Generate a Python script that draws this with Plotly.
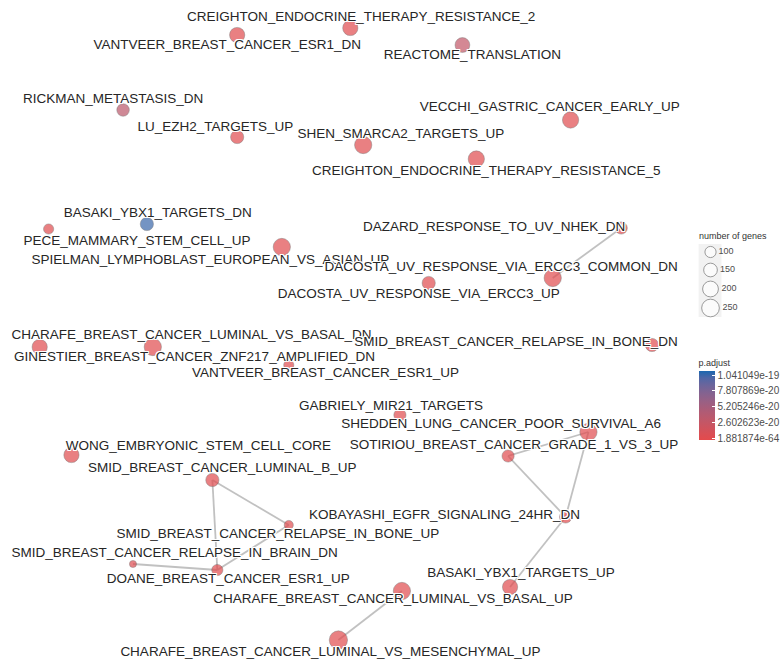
import plotly.graph_objects as go

# ---------------- data ----------------
terms = [
    "CREIGHTON_ENDOCRINE_THERAPY_RESISTANCE_2",
    "VANTVEER_BREAST_CANCER_ESR1_DN",
    "REACTOME_TRANSLATION",
    "RICKMAN_METASTASIS_DN",
    "LU_EZH2_TARGETS_UP",
    "SHEN_SMARCA2_TARGETS_UP",
    "VECCHI_GASTRIC_CANCER_EARLY_UP",
    "CREIGHTON_ENDOCRINE_THERAPY_RESISTANCE_5",
    "BASAKI_YBX1_TARGETS_DN",
    "PECE_MAMMARY_STEM_CELL_UP",
    "SPIELMAN_LYMPHOBLAST_EUROPEAN_VS_ASIAN_UP",
    "DAZARD_RESPONSE_TO_UV_NHEK_DN",
    "DACOSTA_UV_RESPONSE_VIA_ERCC3_COMMON_DN",
    "DACOSTA_UV_RESPONSE_VIA_ERCC3_UP",
    "CHARAFE_BREAST_CANCER_LUMINAL_VS_BASAL_DN",
    "GINESTIER_BREAST_CANCER_ZNF217_AMPLIFIED_DN",
    "VANTVEER_BREAST_CANCER_ESR1_UP",
    "SMID_BREAST_CANCER_RELAPSE_IN_BONE_DN",
    "GABRIELY_MIR21_TARGETS",
    "SHEDDEN_LUNG_CANCER_POOR_SURVIVAL_A6",
    "SOTIRIOU_BREAST_CANCER_GRADE_1_VS_3_UP",
    "WONG_EMBRYONIC_STEM_CELL_CORE",
    "SMID_BREAST_CANCER_LUMINAL_B_UP",
    "KOBAYASHI_EGFR_SIGNALING_24HR_DN",
    "SMID_BREAST_CANCER_RELAPSE_IN_BONE_UP",
    "SMID_BREAST_CANCER_RELAPSE_IN_BRAIN_DN",
    "DOANE_BREAST_CANCER_ESR1_UP",
    "BASAKI_YBX1_TARGETS_UP",
    "CHARAFE_BREAST_CANCER_LUMINAL_VS_BASAL_UP",
    "CHARAFE_BREAST_CANCER_LUMINAL_VS_MESENCHYMAL_UP",
]

# network layout coordinates of the nodes
node_x = [353, 239, 466, 124, 239, 366, 575, 480, 148, 49,
          284, 626, 557, 432, 40, 154, 291, 657, 403, 593,
          512, 72, 214, 570, 291, 134, 219, 514, 405, 341]
node_y = [28, 35, 45, 110, 137, 145, 120, 159, 224, 229,
          247, 228, 278, 283, 347, 347, 365, 345, 415, 432,
          456, 455, 480, 517, 525, 564, 570, 587, 591, 640]

# repelled label positions
label_x = [364, 229, 476, 114, 217, 404, 554, 490, 159, 138,
           212, 498, 505, 422, 193, 196, 328, 520, 394, 505,
           518, 200, 224, 448, 280, 176, 230, 525, 396, 333]
label_y = [18, 46, 56, 100, 128, 135, 108, 172, 214, 242,
           261, 228, 268, 295, 336, 358, 374, 343, 407, 425,
           446, 447, 469, 516, 535, 554, 580, 574, 600, 653]

gene_count = [186, 186, 175, 125, 140, 239, 212, 212, 140, 83,
              239, 119, 239, 140, 186, 239, 83, 140, 119, 239,
              119, 186, 140, 119, 67, 40, 100, 186, 239, 268]

p_adjust = [2.1e-24, 3.5e-26, 2.8e-20, 3.3e-20, 4.2e-25, 6.0e-32, 1.5e-27, 8.3e-30, 1.041049e-19, 2.2e-22,
            5.4e-31, 1.9e-23, 3.1e-36, 7.7e-25, 4.4e-33, 1.2e-38, 9.5e-23, 2.6e-24, 1.1e-22, 6.8e-35,
            3.9e-24, 2.5e-29, 5.0e-27, 1.6e-23, 8.1e-22, 2.9e-21, 4.6e-25, 7.3e-28, 9.9e-45, 1.881874e-64]

edges = [(11, 12), (19, 20), (20, 23), (19, 23), (23, 27),
         (22, 24), (22, 26), (24, 26), (25, 26), (28, 29)]

size_breaks = [100, 150, 200, 250]
cbar_ticks = [1.881874e-64, 2.602623e-20, 5.205246e-20, 7.807869e-20, 1.041049e-19]
cbar_ticktext = ["1.881874e-64", "2.602623e-20", "5.205246e-20", "7.807869e-20", "1.041049e-19"]

# ---------------- style helpers ----------------
LOW, HIGH = (228, 74, 76), (28, 104, 176)


def _to_lin(c):
    c = c / 255.0
    return c / 12.92 if c <= 0.04045 else ((c + 0.055) / 1.055) ** 2.4


def _from_lin(c):
    c = 12.92 * c if c <= 0.0031308 else 1.055 * c ** (1 / 2.4) - 0.055
    return max(0, min(255, round(c * 255)))


def rgb2lab(rgb):
    r, g, b = [_to_lin(v) for v in rgb]
    X = (0.4124 * r + 0.3576 * g + 0.1805 * b) / 0.95047
    Y = (0.2126 * r + 0.7152 * g + 0.0722 * b)
    Z = (0.0193 * r + 0.1192 * g + 0.9505 * b) / 1.08883
    f = lambda t: t ** (1 / 3) if t > 0.008856 else 7.787 * t + 16 / 116
    fx, fy, fz = f(X), f(Y), f(Z)
    return (116 * fy - 16, 500 * (fx - fy), 200 * (fy - fz))


def lab2rgb(lab):
    L, a, b = lab
    fy = (L + 16) / 116
    fx = fy + a / 500
    fz = fy - b / 200
    g = lambda t: t ** 3 if t ** 3 > 0.008856 else (t - 16 / 116) / 7.787
    X, Y, Z = g(fx) * 0.95047, g(fy), g(fz) * 1.08883
    r = 3.2406 * X - 1.5372 * Y - 0.4986 * Z
    gg = -0.9689 * X + 1.8758 * Y + 0.0415 * Z
    bb = 0.0557 * X - 0.2040 * Y + 1.0570 * Z
    return tuple(_from_lin(v) for v in (r, gg, bb))


lab_lo, lab_hi = rgb2lab(LOW), rgb2lab(HIGH)
colorscale = []
for i in range(11):
    t = i / 10
    lab = tuple(lo + (hi - lo) * t for lo, hi in zip(lab_lo, lab_hi))
    r, g, b = lab2rgb(lab)
    colorscale.append([t, f"rgb({r},{g},{b})"])

SIZEREF = 1.6
halo = ", ".join(f"{dx}px {dy}px 0 #fff" for dx in (-1, 0, 1) for dy in (-1, 0, 1) if (dx, dy) != (0, 0))
FONT = "Liberation Sans, Arial, sans-serif"

pmin, pmax = min(p_adjust), max(p_adjust)
span = pmax - pmin

# ---------------- figure ----------------
fig = go.Figure()

ex, ey = [], []
for a, b in edges:
    ex += [node_x[a], node_x[b], None]
    ey += [node_y[a], node_y[b], None]
fig.add_trace(go.Scatter(x=ex, y=ey, mode="lines",
                         line=dict(color="rgba(190,190,190,0.95)", width=1.8),
                         hoverinfo="skip", showlegend=False))

fig.add_trace(go.Scatter(
    x=node_x, y=node_y, mode="markers", text=terms, hoverinfo="text", showlegend=False,
    marker=dict(size=gene_count, sizemode="area", sizeref=SIZEREF,
                color=p_adjust, colorscale=colorscale,
                cmin=pmin - span * 0.025, cmax=pmax + span * 0.065,
                line=dict(color="rgba(70,70,70,0.75)", width=0.6),
                showscale=True,
                colorbar=dict(
                    title=dict(text="p.adjust", side="top", font=dict(family=FONT, size=9, color="#333")),
                    x=704 / 783, xanchor="left", xref="paper",
                    y=1 - 398 / 662, yanchor="middle",
                    len=84, lenmode="pixels", thickness=16,
                    tickvals=cbar_ticks, ticktext=cbar_ticktext,
                    ticks="inside", ticklen=3, tickcolor="white",
                    tickfont=dict(family=FONT, size=10, color="#4d4d4d"),
                    outlinewidth=0, xpad=0, ypad=0,
                ))))

fig.add_trace(go.Scatter(
    x=label_x, y=label_y, mode="text", text=terms, textposition="middle center",
    textfont=dict(family=FONT, size=13.5, color="#262626", shadow=halo),
    hoverinfo="skip", showlegend=False))

# size legend
leg_x = [716] * len(size_breaks)
leg_y = [252, 270, 289, 308]
fig.add_shape(type="rect", x0=704, x1=727, y0=244, y1=317, xref="x", yref="y",
              fillcolor="#f2f2f2", line=dict(width=0), layer="below")
fig.add_trace(go.Scatter(
    x=leg_x, y=leg_y, mode="markers+text", text=[str(s) for s in size_breaks],
    textposition="middle right",
    textfont=dict(family=FONT, size=9, color="#4d4d4d"),
    marker=dict(size=size_breaks, sizemode="area", sizeref=SIZEREF, color="white",
                line=dict(color="#555555", width=0.8)),
    hoverinfo="skip", showlegend=False, cliponaxis=False))
fig.add_annotation(x=702, y=236, xref="x", yref="y", text="number of genes", showarrow=False,
                   xanchor="left", yanchor="middle",
                   font=dict(family=FONT, size=9, color="#333"))

fig.update_layout(
    width=783, height=662,
    margin=dict(l=0, r=0, t=0, b=0),
    paper_bgcolor="white", plot_bgcolor="white",
    xaxis=dict(range=[0, 783], visible=False, fixedrange=True),
    yaxis=dict(range=[662, 0], visible=False, fixedrange=True),
    font=dict(family=FONT),
)

fig.write_html("out.html", config={"displayModeBar": False},
               post_script="document.body.style.margin='0';document.body.style.padding='0';")
